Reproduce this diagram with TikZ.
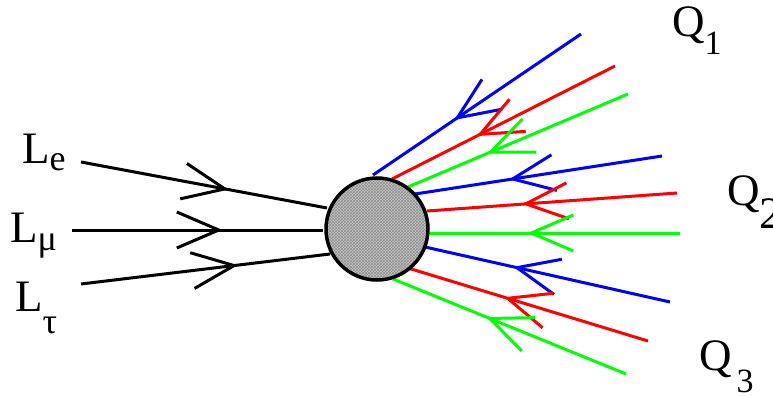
\documentclass[tikz,border=0pt]{standalone}
\usepackage{fontspec}
\setmainfont{Liberation Serif}
\usepackage{xcolor}
\usetikzlibrary{arrows.meta,decorations.markings,patterns}

\definecolor{qblue}{RGB}{0,0,255}
\definecolor{qred}{RGB}{255,0,0}
\definecolor{qgreen}{RGB}{0,255,0}

\newcommand{\subtxt}[3]{\raisebox{#2}{\fontsize{#1}{#1}\selectfont #3}}

\tikzset{
  fermion/.style={line width=3pt,postaction={decorate},
    decoration={markings,mark=at position #1 with {\arrow{Straight Barb[length=42pt,width=36pt]}}}},
  fermion/.default=0.62,
  lbl/.style={anchor=base west,inner sep=0pt,font=\fontsize{45}{45}\selectfont}
}

\begin{document}
\begin{tikzpicture}[x=1pt,y=-1pt]
  \useasboundingbox (0,0) rectangle (773,396);

  % leptons in
  \node[lbl] (le) at (22,163) {L\subtxt{36}{-7pt}{e}};
  \node[lbl] (lmu) at (10,242) {L\subtxt{36}{-8pt}{μ}};
  \node[lbl] (ltau) at (15,311) {L\subtxt{36}{-22pt}{τ}};
  \coordinate (leOut) at (81,162);
  \coordinate (lmuOut) at (72,230);
  \coordinate (ltauOut) at (81,284);
  \coordinate (leIn) at (327,208);
  \coordinate (lmuIn) at (323,230);
  \coordinate (ltauIn) at (330,254);
  \draw[fermion=0.6] (leOut) -- (leIn);
  \draw[fermion=0.6] (lmuOut) -- (lmuIn);
  \draw[fermion=0.63] (ltauOut) -- (ltauIn);

  % quarks out, three colours each
  \node[lbl] (q1) at (672,37) {Q\subtxt{34}{-18pt}{1}};
  \node[lbl] (q2) at (727,205) {Q\subtxt{45}{-23pt}{2}};
  \node[lbl] (q3) at (699,370) {Q\hspace{5pt}\subtxt{34}{-22pt}{3}};

  \coordinate (b1Out) at (581,34);  \coordinate (b1In) at (373,175);
  \coordinate (r1Out) at (615,66);  \coordinate (r1In) at (392,179);
  \coordinate (g1Out) at (628,94);  \coordinate (g1In) at (408,187);
  \coordinate (b2Out) at (662,156); \coordinate (b2In) at (415,194);
  \coordinate (r2Out) at (677,193); \coordinate (r2In) at (427,211);
  \coordinate (g2Out) at (680,233); \coordinate (g2In) at (430,233);
  \coordinate (b3Out) at (670,302); \coordinate (b3In) at (425,247);
  \coordinate (r3Out) at (648,341); \coordinate (r3In) at (408,268);
  \coordinate (g3Out) at (626,374); \coordinate (g3In) at (393,279);

  \draw[fermion=0.61,qblue] (b1Out) -- (b1In);
  \draw[fermion,qred] (r1Out) -- (r1In);
  \draw[fermion=0.64,qgreen] (g1Out) -- (g1In);
  \draw[fermion,qblue] (b2Out) -- (b2In);
  \draw[fermion,qred] (r2Out) -- (r2In);
  \draw[fermion=0.61,qgreen] (g2Out) -- (g2In);
  \draw[fermion=0.64,qblue] (b3Out) -- (b3In);
  \draw[fermion=0.6,qred] (r3Out) -- (r3In);
  \draw[fermion=0.6,qgreen] (g3Out) -- (g3In);

  % the blob
  \node[circle,draw,line width=3.5pt,minimum size=102pt,
    preaction={fill=black!22},pattern=crosshatch,pattern color=black!45] (blob) at (377,229) {};
\end{tikzpicture}
\end{document}
